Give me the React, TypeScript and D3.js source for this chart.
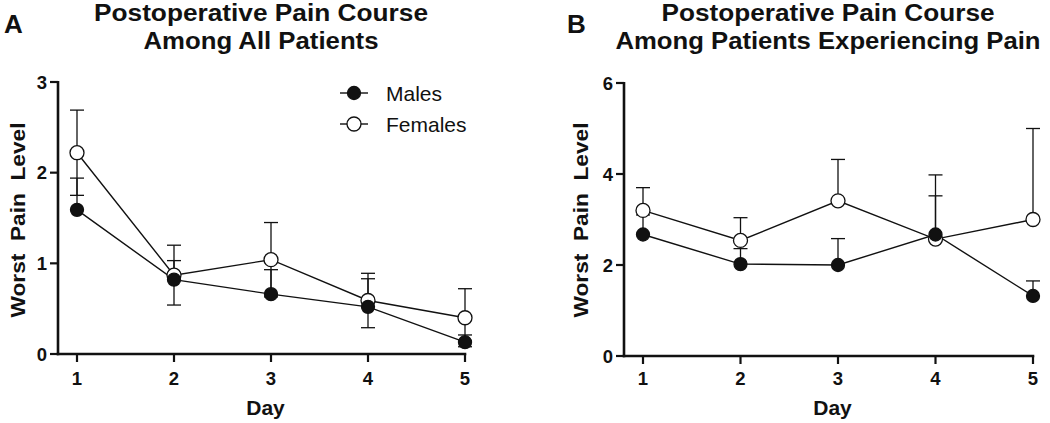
import React from "react";
import * as d3 from "d3";

const days = [1, 2, 3, 4, 5];
const dayTicks = ["1", "2", "3", "4", "5"];

// Panel A: all patients
const malesA = [1.59, 0.82, 0.66, 0.52, 0.13];
const malesAErr = [0.35, 0.21, 0.27, 0.31, 0.08];
const femalesA = [2.22, 0.87, 1.04, 0.59, 0.4];
const femalesAErr = [0.47, 0.33, 0.41, 0.3, 0.32];
const yTicksA = [0, 1, 2, 3];

// Panel B: patients experiencing pain
const malesB = [2.67, 2.02, 2.0, 2.67, 1.32];
const malesBErr = [0.43, 0.34, 0.58, 0.85, 0.33];
const femalesB = [3.2, 2.54, 3.41, 2.57, 3.0];
const femalesBErr = [0.5, 0.5, 0.91, 1.41, 2.0];
const yTicksB = [0, 2, 4, 6];

const legendLabels = ["Males", "Females"];
const yLabel = "Worst  Pain  Level";

const FONT = "'Liberation Sans', Arial, Helvetica, sans-serif";
const INK = "#111";

type Series = { values: number[]; err: number[]; filled: boolean; lower: boolean };

function Panel(props: {
  letter: string;
  letterX: number;
  title: [string, string];
  titleX: number;
  titleLen: [number, number];
  axisX: number;
  xRange: [number, number];
  yMax: number;
  yRange: [number, number];
  yTicks: number[];
  series: Series[];
  ylabelX: number;
  legend?: boolean;
}) {
  const x = d3.scaleLinear().domain([1, 5]).range(props.xRange);
  const y = d3.scaleLinear().domain([0, props.yMax]).range(props.yRange);
  const y0 = y(0);
  const line = d3
    .line<number>()
    .x((_, i) => x(days[i]))
    .y((v) => y(v));
  const cap = 7;
  const ordered = [props.series[1], props.series[0]]; // females beneath males
  return (
    <g>
      <text x={props.letterX} y={33} fontFamily={FONT} fontWeight="bold" fontSize={26} fill={INK}>
        {props.letter}
      </text>
      <text x={props.titleX} y={21} textAnchor="middle" fontFamily={FONT} fontWeight="bold" fontSize={23}
        textLength={props.titleLen[0]} lengthAdjust="spacingAndGlyphs" fill={INK}>
        {props.title[0]}
      </text>
      <text x={props.titleX} y={49} textAnchor="middle" fontFamily={FONT} fontWeight="bold" fontSize={23}
        textLength={props.titleLen[1]} lengthAdjust="spacingAndGlyphs" fill={INK}>
        {props.title[1]}
      </text>
      {/* axes */}
      <line x1={props.axisX} x2={props.axisX} y1={y(props.yMax) - 1} y2={y0 + 1.2} stroke={INK} strokeWidth={2.6} />
      <line x1={props.axisX - 1.3} x2={props.xRange[1] + 1.3} y1={y0} y2={y0} stroke={INK} strokeWidth={2.6} />
      {props.yTicks.map((t) => (
        <g key={"yt" + t}>
          <line x1={props.axisX - 8} x2={props.axisX} y1={y(t)} y2={y(t)} stroke={INK} strokeWidth={2.2} />
          <text x={props.axisX - 11} y={y(t) + 6.5} textAnchor="end" fontFamily={FONT} fontWeight="bold" fontSize={18.5} fill={INK}>
            {String(t)}
          </text>
        </g>
      ))}
      {days.map((d, i) => (
        <g key={"xt" + d}>
          <line x1={x(d)} x2={x(d)} y1={y0} y2={y0 + 8} stroke={INK} strokeWidth={2.2} />
          <text x={x(d)} y={385} textAnchor="middle" fontFamily={FONT} fontWeight="bold" fontSize={18.5} fill={INK}>
            {dayTicks[i]}
          </text>
        </g>
      ))}
      <text x={(props.axisX + props.xRange[1]) / 2 + 4} y={415} textAnchor="middle" fontFamily={FONT} fontWeight="bold" fontSize={21} fill={INK}>
        Day
      </text>
      <text transform={`translate(${props.ylabelX},${220}) rotate(-90)`} textAnchor="middle" fontFamily={FONT}
        fontWeight="bold" fontSize={21} textLength={195} lengthAdjust="spacingAndGlyphs"
        style={{ whiteSpace: "pre" }} fill={INK}>
        {yLabel}
      </text>
      {/* error bars */}
      {props.series.map((s, si) =>
        s.values.map((v, i) => {
          const cx = x(days[i]);
          const top = y(v + s.err[i]);
          const bot = s.lower ? y(v - s.err[i]) : y(v);
          return (
            <g key={"e" + si + "-" + i} stroke={INK} strokeWidth={1.3}>
              <line x1={cx} x2={cx} y1={top} y2={bot} />
              <line x1={cx - cap} x2={cx + cap} y1={top} y2={top} />
              {s.lower && <line x1={cx - cap} x2={cx + cap} y1={bot} y2={bot} />}
            </g>
          );
        })
      )}
      {/* lines */}
      {props.series.map((s, si) => (
        <path key={"l" + si} d={line(s.values) || ""} fill="none" stroke={INK} strokeWidth={1.4} />
      ))}
      {/* markers */}
      {ordered.map((s, si) =>
        s.values.map((v, i) => (
          <circle key={"m" + si + "-" + i} cx={x(days[i])} cy={y(v)} r={s.filled ? 6.5 : 7}
            fill={s.filled ? INK : "#fff"} stroke={INK} strokeWidth={1.3} />
        ))
      )}
      {props.legend && (
        <g>
          {legendLabels.map((lab, i) => {
            const ly = 93 + i * 31;
            const filled = i === 0;
            return (
              <g key={"lg" + i}>
                <line x1={340} x2={368} y1={ly} y2={ly} stroke={INK} strokeWidth={1.4} />
                <circle cx={354} cy={ly} r={filled ? 6.5 : 7} fill={filled ? INK : "#fff"} stroke={INK} strokeWidth={1.3} />
                <text x={386} y={ly + 7.5} fontFamily={FONT} fontSize={21} fill={INK}>
                  {lab}
                </text>
              </g>
            );
          })}
        </g>
      )}
    </g>
  );
}

export default function App() {
  return (
    <svg width={1050} height={423} style={{ position: "absolute", left: 0, top: 0, background: "#fff" }}>
      <rect width={1050} height={423} fill="#fff" />
      <Panel
        letter="A"
        letterX={4}
        title={["Postoperative Pain Course", "Among All Patients"]}
        titleX={261}
        titleLen={[334, 235]}
        axisX={58}
        xRange={[77, 465]}
        yMax={3}
        yRange={[354, 82]}
        yTicks={yTicksA}
        series={[
          { values: malesA, err: malesAErr, filled: true, lower: false },
          { values: femalesA, err: femalesAErr, filled: false, lower: true },
        ]}
        ylabelX={25}
        legend
      />
      <Panel
        letter="B"
        letterX={567}
        title={["Postoperative Pain Course", "Among Patients Experiencing Pain"]}
        titleX={828}
        titleLen={[333, 425]}
        axisX={624}
        xRange={[643, 1033]}
        yMax={6}
        yRange={[356, 83]}
        yTicks={yTicksB}
        series={[
          { values: malesB, err: malesBErr, filled: true, lower: false },
          { values: femalesB, err: femalesBErr, filled: false, lower: false },
        ]}
        ylabelX={588}
      />
    </svg>
  );
}
